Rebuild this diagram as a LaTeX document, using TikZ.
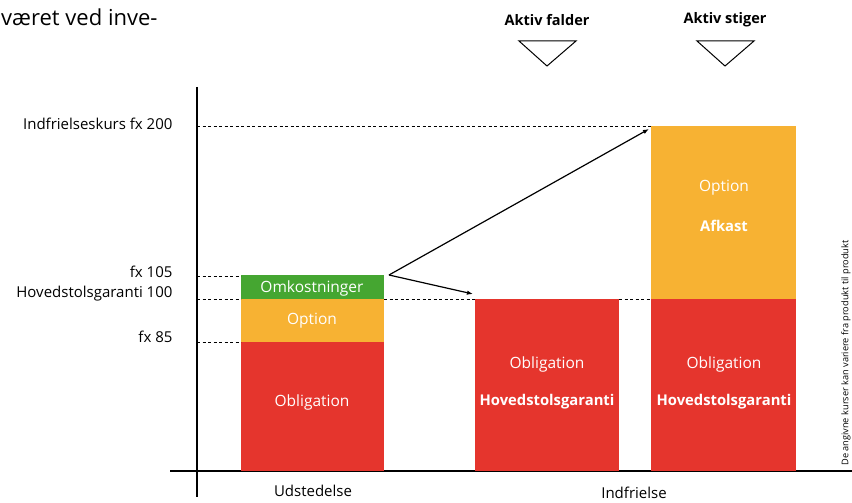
\documentclass[tikz,border=0pt]{standalone}
\usepackage{fontspec}
\setmainfont{Open Sans}
\usetikzlibrary{arrows.meta}
\definecolor{oblred}{RGB}{229, 53, 45}
\definecolor{optorange}{RGB}{247, 178, 51}
\definecolor{costgreen}{RGB}{69, 166, 49}
\tikzset{%
    bar/.style={inner sep=0pt, outer sep=0pt, anchor=north west},
    bartext/.style={text=white, font=\fontsize{15.5}{18}\selectfont},
    boldtext/.style={text=white, font=\fontsize{14.8}{18}\selectfont\bfseries},
    levellabel/.style={anchor=east, font=\fontsize{15}{18}\selectfont},
    levelline/.style={line width=1pt, dash pattern=on 3pt off 2.5pt},
    axisline/.style={line width=1.2pt},
    jump/.style={-{Latex[length=6pt, width=4.5pt]}, line width=1.2pt}
}

\begin{document}
\begin{tikzpicture}[x=1pt, y=-1pt]
    \useasboundingbox (0, 0) rectangle (852, 503);

    % Cut-off text above
    \node[anchor=base west, inner sep=0pt, font=\fontsize{22}{26}\selectfont]
        (cuttext) at (1, 26) {været ved inve-};

    % Axes
    \draw[axisline] (197, 87) -- (197, 497);
    \draw[axisline] (170, 471) -- (852, 471);

    % First column: issue
    \node[bar, fill=oblred, minimum width=143pt, minimum height=129pt]
        (obl1) at (241, 342) {};
    \node[bar, fill=optorange, minimum width=143pt, minimum height=43pt]
        (opt1) at (241, 299) {};
    \node[bar, fill=costgreen, minimum width=143pt, minimum height=24pt]
        (cost1) at (241, 275) {};
    \node[bartext] at (312, 288) {Omkostninger};
    \node[bartext] at (312, 321) {Option};
    \node[bartext] at (312, 402) {Obligation};

    % Second column: asset falls
    \node[bar, fill=oblred, minimum width=144pt, minimum height=172pt]
        (obl2) at (475, 299) {};
    \node[bartext] at (547, 364) {Obligation};
    \node[boldtext] at (547, 402) {Hovedstolsgaranti};

    % Third column: asset rises
    \node[bar, fill=oblred, minimum width=145pt, minimum height=172pt]
        (obl3) at (651, 299) {};
    \node[bar, fill=optorange, minimum width=145pt, minimum height=173pt]
        (opt3) at (651, 126) {};
    \node[bartext] at (724, 188) {Option};
    \node[boldtext] at (724, 226) {Afkast};
    \node[bartext] at (724, 364) {Obligation};
    \node[boldtext] at (724, 402) {Hovedstolsgaranti};

    % Levels
    \node[levellabel] (lvl200) at (176, 124) {Indfrielseskurs fx 200};
    \node[levellabel] (lvl105) at (176, 272) {fx 105};
    \node[levellabel] (lvl100) at (176, 294) {Hovedstolsgaranti 100};
    \node[levellabel] (lvl85) at (176, 337) {fx 85};

    \draw[levelline] (197, 126) -- (opt3.north west);
    \draw[levelline] (197, 276) -- (241, 276);
    \draw[levelline] (197, 299) -- (opt1.north west);
    \draw[levelline] (opt1.north east) -- (obl2.north west);
    \draw[levelline] (obl2.north east) -- (obl3.north west);
    \draw[levelline] (197, 342) -- (obl1.north west);

    % Scenarios
    \node[font=\fontsize{14.5}{17}\selectfont\bfseries] (fall) at (547, 20)
        {Aktiv falder};
    \node[font=\fontsize{14.5}{17}\selectfont\bfseries] (rise) at (725, 20)
        {Aktiv stiger};
    \draw[line width=1pt] (519, 41) -- (576, 41) -- (547, 66) -- cycle;
    \draw[line width=1pt] (697, 41) -- (754, 41) -- (725, 66) -- cycle;

    % Arrows
    \coordinate (split) at (389, 275);
    \coordinate (tofall) at (473, 294);
    \coordinate (torise) at (649, 129);
    \draw[jump] (split) -- (torise);
    \draw[jump] (split) -- (tofall);

    % Time axis labels
    \node[font=\fontsize{15}{18}\selectfont] (issue) at (313, 491) {Udstedelse};
    \node[font=\fontsize{15}{18}\selectfont] (redeem) at (634, 493) {Indfrielse};

    % Note
    \node[rotate=90, font=\fontsize{9.2}{11}\selectfont] (note) at (846, 353)
        {De angivne kurser kan variere fra produkt til produkt};

\end{tikzpicture}
\end{document}
